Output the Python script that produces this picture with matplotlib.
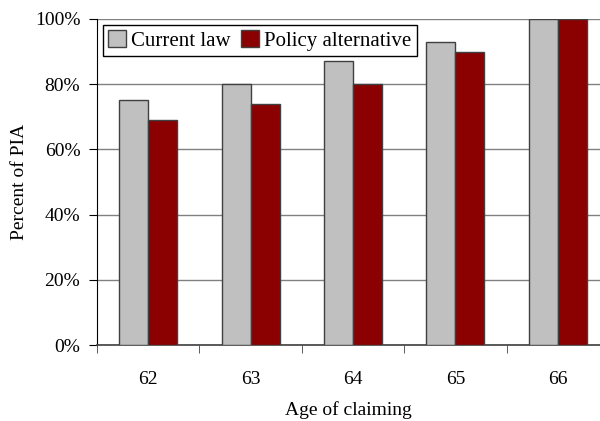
import numpy as np
import matplotlib.pyplot as plt

plt.rcParams['font.family'] = ['Liberation Serif', 'DejaVu Serif']

ages = ['62', '63', '64', '65', '66']
current_law = [75, 80, 87, 93, 100]
policy_alt = [69, 74, 80, 90, 100]
yticks = [0, 20, 40, 60, 80, 100]

fig = plt.figure(figsize=(6, 4.21), dpi=100)
ax = fig.add_axes([0.1617, 0.1805, 1 - 0.1617, 0.9549 - 0.1805])

x = np.arange(len(ages))
w = 0.283
ax.bar(x - w / 2, current_law, w, color='#C0C0C0', edgecolor='#404040',
       linewidth=1, label='Current law', zorder=3)
ax.bar(x + w / 2, policy_alt, w, color='#8B0000', edgecolor='#404040',
       linewidth=1, label='Policy alternative', zorder=3)

ax.set_ylim(0, 100)
ax.set_xlim(-0.5, 4.412)
ax.set_yticks(yticks)
ax.set_yticklabels(['%d%%' % v for v in yticks])
ax.set_xticks(x)
ax.set_xticklabels(ages)
# category boundary ticks
ax.set_xticks(np.arange(len(ages)) - 0.5, minor=True)
ax.tick_params(axis='x', which='major', length=0, pad=19, labelsize=14)
ax.tick_params(axis='x', which='minor', length=6, color='#404040', direction='out')
ax.tick_params(axis='y', length=6, direction='out', labelsize=14, pad=6)

ax.yaxis.grid(True, color='#808080', linewidth=1, zorder=0)
ax.set_axisbelow(True)
for s in ['top', 'right']:
    ax.spines[s].set_visible(False)
ax.spines['left'].set_color('black')
ax.spines['bottom'].set_color('#404040')
ax.spines['bottom'].set_linewidth(1.2)

ax.set_ylabel('Percent of PIA', fontsize=14, labelpad=5)
ax.set_xlabel('Age of claiming', fontsize=14, labelpad=9)

leg = ax.legend(loc='upper left', ncol=2, fontsize=15, frameon=True,
                fancybox=False, edgecolor='black', framealpha=1,
                borderaxespad=0.3, handlelength=0.85, handleheight=0.85,
                handletextpad=0.25, columnspacing=0.5, borderpad=0.25)
leg.get_frame().set_linewidth(1)

fig.savefig('out.png', dpi=100)
